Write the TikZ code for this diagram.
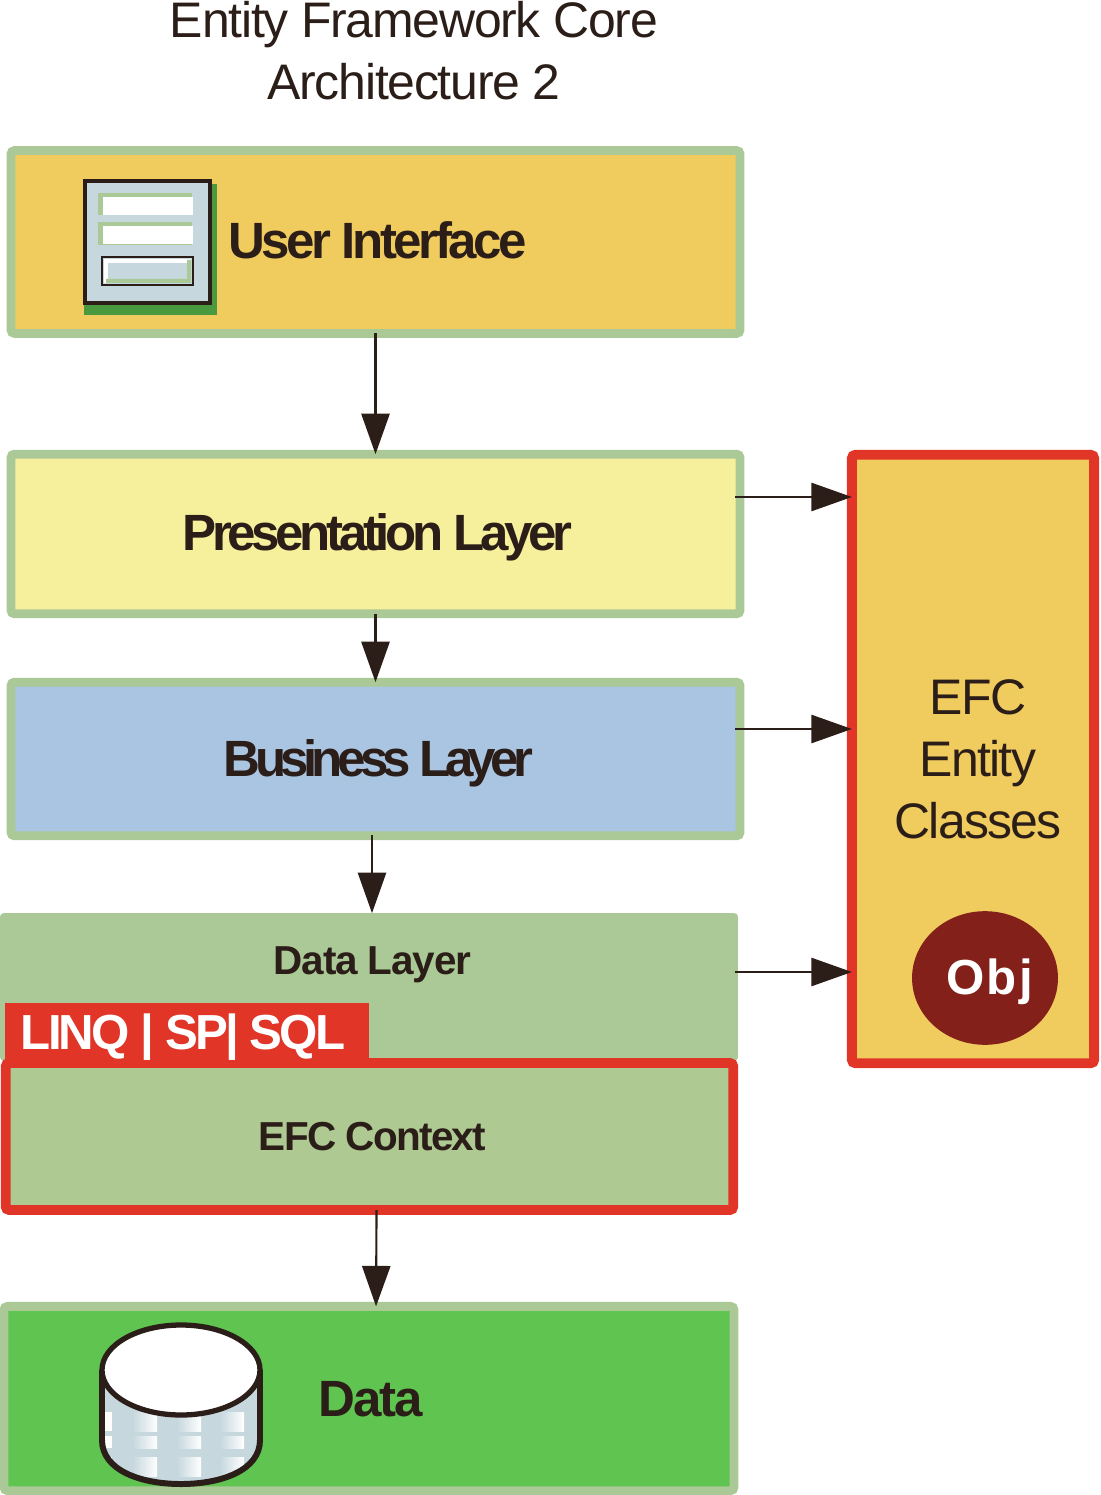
\documentclass[tikz,border=0pt]{standalone}
\usepackage{fontspec}
\setmainfont{Liberation Sans}
\usetikzlibrary{arrows.meta,shapes.geometric}
\definecolor{edgegreen}{HTML}{ABC996}
\definecolor{sandfill}{HTML}{F0CB5E}
\definecolor{paleyellow}{HTML}{F6F09C}
\definecolor{paleblue}{HTML}{A9C5E2}
\definecolor{efcred}{HTML}{E03527}
\definecolor{leafgreen}{HTML}{5FC450}
\definecolor{inkdark}{HTML}{2B1D18}
\definecolor{objred}{HTML}{84201A}
\definecolor{glassblue}{HTML}{C6D8DE}
\tikzset{
	layer/.style={draw=edgegreen, line width=2.5pt, rounded corners=1pt, minimum width=207.3pt, inner sep=0pt, outer sep=0pt},
	redlayer/.style={draw=efcred, line width=2.8pt, rounded corners=1pt, inner sep=0pt, outer sep=0pt},
	flow/.style={draw=inkdark, line width=0.6pt, -{Stealth[length=11.5pt,width=8pt,inset=0pt]}},
	bigbold/.style={font=\fontsize{14.5}{17}\selectfont\bfseries\addfontfeature{LetterSpace=#1}, text=inkdark, inner sep=0pt},
	midbold/.style={font=\fontsize{11.5}{14}\selectfont\bfseries\addfontfeature{LetterSpace=#1}, text=inkdark, inner sep=0pt},
	whitebold/.style={font=\fontsize{14}{17}\selectfont\bfseries\addfontfeature{LetterSpace=#1}, text=white, inner sep=0pt},
	thintext/.style={font=\fontsize{14.2}{17.6}\selectfont\addfontfeature{LetterSpace=#1}, text=inkdark, align=center, inner sep=0pt}
}
\begin{document}
\begin{tikzpicture}[x=0.01cm, y=-0.01cm]
	\useasboundingbox (0,0) rectangle (1100,1495);

	% title
	\node [thintext=-2.5] (title) at (414,51) {Entity Framework Core\\Architecture 2};

	% layers
	\node [layer, fill=sandfill, minimum height=52pt] (ui) at (375.5,242) {};
	\node [layer, fill=paleyellow, minimum height=45.4pt] (pres) at (375.5,534) {};
	\node [layer, fill=paleblue, minimum height=43.7pt] (biz) at (375.5,759) {};
	\node [fill=edgegreen, rounded corners=1pt, minimum width=209.8pt, minimum height=42pt, inner sep=0pt, outer sep=0pt] (datalayer) at (369,987) {};
	\node [redlayer, fill=edgegreen!94!sandfill, minimum width=206.9pt, minimum height=41.8pt] (ctx) at (369.5,1136.5) {};
	\node [fill=efcred, minimum width=103.6pt, minimum height=17pt, inner sep=0pt] (linq) at (187,1033) {};
	\node [layer, fill=leafgreen, minimum width=207.6pt, minimum height=52.4pt] (data) at (369,1398.5) {};
	\node [redlayer, fill=sandfill, minimum width=68.9pt, minimum height=173pt] (ent) at (973,759) {};

	% labels
	\node [bigbold=-6.8] (uitext) at (377.5,240) {User Interface};
	\node [bigbold=-8.5] (prestext) at (377.5,537) {Presentation Layer};
	\node [bigbold=-11.1] (biztext) at (378.5,763) {Business Layer};
	\node [midbold=-3] (dltext) at (372.5,965) {Data Layer};
	\node [midbold=-4.2] (ctxtext) at (372.5,1137) {EFC Context};
	\node [bigbold=-4] (datatext) at (370.5,1399) {Data};
	\node [whitebold=-5.9] (linqtext) at (183,1037) {LINQ | SP| SQL};
	\node [thintext=-3.5] (enttext) at (978,759) {EFC\\Entity\\Classes};

	% object badge
	\node [ellipse, fill=objred, minimum width=41.5pt, minimum height=38pt, inner sep=0pt] (obj) at (985,978) {};
	\node [whitebold=5] (objtext) at (989.5,982) {Obj};

	% form icon
	\fill [leafgreen!78!black] (84,184) rectangle (217,315);
	\draw [draw=inkdark, line width=1.1pt, fill=glassblue] (85,181) rectangle (210,303);
	\fill [edgegreen] (98,193) rectangle (192,215);
	\fill [white] (103,197) rectangle (193,215);
	\fill [edgegreen] (98,222) rectangle (192,245);
	\fill [white] (103,226) rectangle (193,244);
	\draw [draw=inkdark, line width=0.5pt, fill=glassblue] (102,257) rectangle (193,285);
	\fill [white] (104,259) rectangle (191,263);
	\fill [white] (104,259) rectangle (108,283);
	\fill [edgegreen] (106,283) -- (191,283) -- (191,260) -- (187,260) -- (187,279) -- (106,279) -- cycle;

	% database icon
	\begin{scope}
		\clip (102,1370) -- (102,1440) .. controls (102,1470) and (140,1484) .. (181,1484) .. controls (222,1484) and (260,1470) .. (260,1440) -- (260,1370) -- cycle;
		\fill [glassblue] (100,1370) rectangle (262,1490);
		\foreach \ry/\rb in {1412/1431,1436/1448,1457/1476} {
			\fill [white] (100,\ry) rectangle (112,\rb);
			\foreach \cx in {133,177,220}
				\shade [left color=glassblue, right color=white] (\cx,\ry) rectangle ++(24,\rb-\ry);
		}
	\end{scope}
	\draw [draw=inkdark, line width=1.7pt] (102,1370) -- (102,1440) .. controls (102,1470) and (140,1484) .. (181,1484) .. controls (222,1484) and (260,1470) .. (260,1440) -- (260,1370);
	\draw [draw=inkdark, line width=1.5pt, fill=white] (181,1370) ellipse (79 and 45);

	% connectors
	\coordinate (bizout) at (372,835);
	\coordinate (presout) at (735,497);
	\coordinate (bizright) at (735,729);
	\coordinate (dataright) at (735,972);
	\draw [flow] (ui.south) -- (pres.north);
	\draw [flow] (pres.south) -- (biz.north);
	\draw [flow] (bizout) -- (bizout |- datalayer.north);
	\draw [flow] ([xshift=2pt]ctx.south) -- ([xshift=2pt]data.north);
	\draw [flow] (presout) -- (presout -| ent.west);
	\draw [flow] (bizright) -- (bizright -| ent.west);
	\draw [flow] (dataright) -- (dataright -| ent.west);
\end{tikzpicture}
\end{document}
